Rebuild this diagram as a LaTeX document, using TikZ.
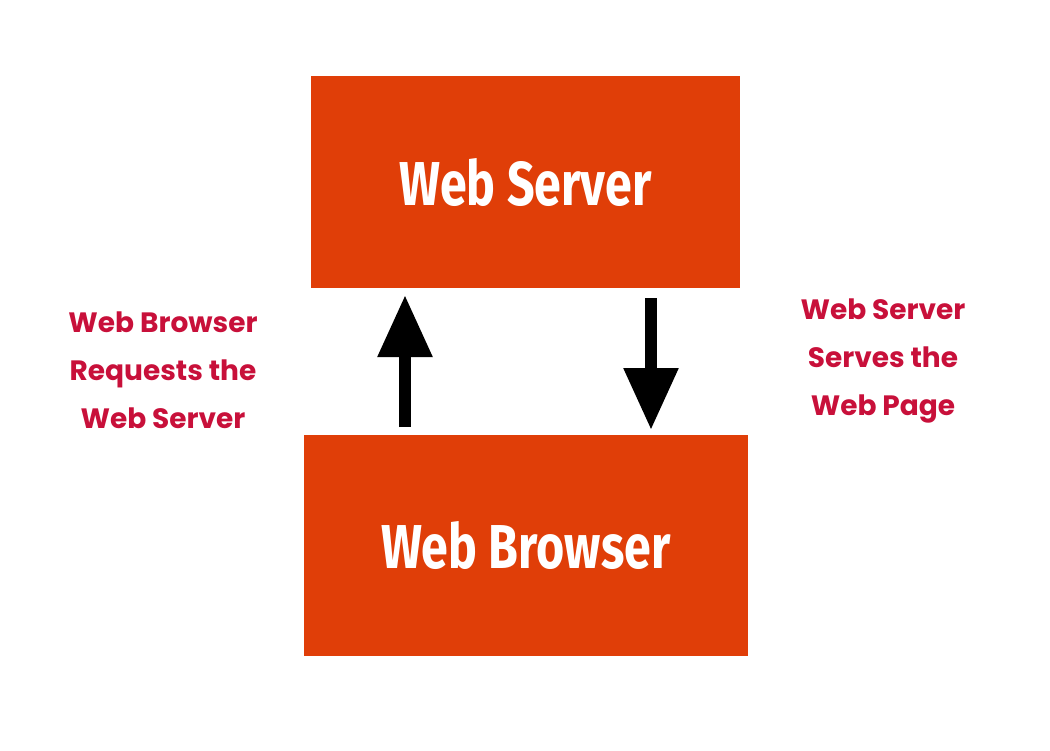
\documentclass[tikz,border=0pt]{standalone}
\usepackage{fontspec}
\setmainfont{Poppins}
\newfontfamily\boxfont{Fira Sans}
\usetikzlibrary{arrows.meta, positioning}
\definecolor{boxorange}{HTML}{E03E08}
\definecolor{labelred}{HTML}{C8103A}
\tikzset{
	box/.style={fill=boxorange, text=white, font=\boxfont\bfseries\fontsize{62}{70}\selectfont, inner sep=0pt},
	flow/.style={line width=12pt, -{Triangle[width=52pt, length=62pt]}},
	note/.style={text=labelred, font=\bfseries\fontsize{28}{48}\selectfont, align=center}
}
\begin{document}
\begin{tikzpicture}[x=1pt, y=-1pt]
	\useasboundingbox (0,0) rectangle (1050,750);
	\node[box, minimum width=429pt, minimum height=212pt] (server) at (525.5,182) {\scalebox{0.78}[1]{Web Server}};
	\node[box, minimum width=444pt, minimum height=221pt] (browser) at (526,545.5) {\scalebox{0.78}[1]{Web Browser}};

	\coordinate (req) at (405,427);
	\coordinate (srv) at (651,298);
	\draw[flow] (req) -- (req |- 0,295);
	\draw[flow] (srv) -- (srv |- 0,430);

	\node[note] (reqlabel) at (163,370) {Web Browser\\Requests the\\Web Server};
	\node[note] (srvlabel) at (883,361) {Web Server\\Serves the\\Web Page};
\end{tikzpicture}
\end{document}
